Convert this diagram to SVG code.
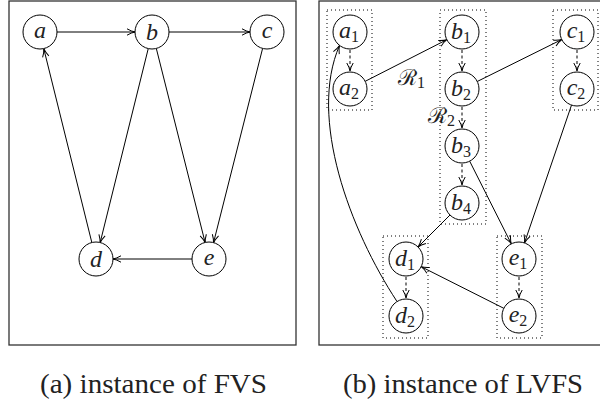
<svg xmlns="http://www.w3.org/2000/svg" width="600" height="403" viewBox="0 0 600 403">
<defs>
<marker id="arr" markerUnits="userSpaceOnUse" markerWidth="12" markerHeight="10" viewBox="-10 -5 12 10" refX="0" refY="0" orient="auto">
<path d="M-8,-3.2 Q-3.5,-0.6 0,0 Q-3.5,0.6 -8,3.2" fill="none" stroke="#000" stroke-width="1"/>
</marker>
</defs>
<g id="frames" fill="none" stroke="#333" stroke-width="1.3">
<rect x="9" y="1" width="287" height="344"/>
<rect x="319" y="1" width="283" height="344"/>
</g>
<g id="groups" fill="none" stroke="#000" stroke-width="1" stroke-dasharray="1 3">
<rect x="327" y="10" width="45" height="100"/>
<rect x="440" y="10" width="46" height="214"/>
<rect x="553" y="10" width="45" height="100"/>
<rect x="383" y="236" width="45" height="102"/>
<rect x="497" y="236" width="45" height="102"/>
</g>
<g id="connectors" fill="none" stroke="#000" stroke-width="1" marker-end="url(#arr)">
<line x1="57" y1="32" x2="135" y2="32"/>
<line x1="169" y1="32" x2="250" y2="32"/>
<line x1="192" y1="259" x2="113" y2="259"/>
<line x1="91.9" y1="242.8" x2="43.8" y2="48.8"/>
<line x1="148.2" y1="48.8" x2="100.1" y2="242.8"/>
<line x1="156.4" y1="48.8" x2="205.2" y2="242.8"/>
<line x1="262.5" y1="48.8" x2="213.5" y2="242.8"/>
<g stroke-dasharray="3 2.5">
<line x1="350" y1="50" x2="350" y2="71"/>
<line x1="462" y1="50" x2="462" y2="71"/>
<line x1="462" y1="107" x2="462" y2="128"/>
<line x1="462" y1="164" x2="462" y2="185"/>
<line x1="577" y1="50" x2="577" y2="71"/>
<line x1="406" y1="277" x2="406" y2="298"/>
<line x1="519" y1="277" x2="519" y2="298"/>
</g>
<line x1="365.2" y1="81.3" x2="446.8" y2="39.7"/>
<line x1="477.2" y1="81.5" x2="561.8" y2="39.5"/>
<line x1="571.5" y1="105.1" x2="524.5" y2="242.9"/>
<line x1="469.7" y1="161.2" x2="511.3" y2="243.8"/>
<line x1="450" y1="215" x2="418" y2="247"/>
<line x1="503.8" y1="308.3" x2="421.2" y2="266.7"/>
<path d="M397,301.5 C350,230 308,118 339.5,45.5"/>
</g>
<text x="398" y="85" font-family="DejaVu Serif" font-size="22" fill="#222">&#8475;<tspan font-family="Liberation Serif" font-size="16" dy="3">1</tspan></text>
<text x="428" y="123" font-family="DejaVu Serif" font-size="22" fill="#222">&#8475;<tspan font-family="Liberation Serif" font-size="16" dy="3">2</tspan></text>
<g id="nodes" fill="#fff" stroke="#000" stroke-width="1">
<g id="a"><circle cx="40" cy="32" r="17"/><text x="40" y="38" font-family="Liberation Serif" font-style="italic" font-size="24" fill="#222" stroke="none" text-anchor="middle">a</text></g>
<g id="b"><circle cx="152" cy="32" r="17"/><text x="152" y="40" font-family="Liberation Serif" font-style="italic" font-size="24" fill="#222" stroke="none" text-anchor="middle">b</text></g>
<g id="c"><circle cx="267" cy="32" r="17"/><text x="267" y="38" font-family="Liberation Serif" font-style="italic" font-size="24" fill="#222" stroke="none" text-anchor="middle">c</text></g>
<g id="d"><circle cx="96" cy="259" r="17"/><text x="96" y="267" font-family="Liberation Serif" font-style="italic" font-size="24" fill="#222" stroke="none" text-anchor="middle">d</text></g>
<g id="e"><circle cx="209" cy="259" r="17"/><text x="209" y="265" font-family="Liberation Serif" font-style="italic" font-size="24" fill="#222" stroke="none" text-anchor="middle">e</text></g>
<g id="a1"><circle cx="350" cy="32" r="17"/><text x="349" y="38" font-family="Liberation Serif" font-style="italic" font-size="24" fill="#222" stroke="none" text-anchor="middle">a<tspan font-style="normal" font-size="16" dy="4">1</tspan></text></g>
<g id="a2"><circle cx="350" cy="89" r="17"/><text x="349" y="95" font-family="Liberation Serif" font-style="italic" font-size="24" fill="#222" stroke="none" text-anchor="middle">a<tspan font-style="normal" font-size="16" dy="4">2</tspan></text></g>
<g id="b1"><circle cx="462" cy="32" r="17"/><text x="461" y="39" font-family="Liberation Serif" font-style="italic" font-size="24" fill="#222" stroke="none" text-anchor="middle">b<tspan font-style="normal" font-size="16" dy="4">1</tspan></text></g>
<g id="b2"><circle cx="462" cy="89" r="17"/><text x="461" y="96" font-family="Liberation Serif" font-style="italic" font-size="24" fill="#222" stroke="none" text-anchor="middle">b<tspan font-style="normal" font-size="16" dy="4">2</tspan></text></g>
<g id="b3"><circle cx="462" cy="146" r="17"/><text x="461" y="153" font-family="Liberation Serif" font-style="italic" font-size="24" fill="#222" stroke="none" text-anchor="middle">b<tspan font-style="normal" font-size="16" dy="4">3</tspan></text></g>
<g id="b4"><circle cx="462" cy="203" r="17"/><text x="461" y="210" font-family="Liberation Serif" font-style="italic" font-size="24" fill="#222" stroke="none" text-anchor="middle">b<tspan font-style="normal" font-size="16" dy="4">4</tspan></text></g>
<g id="c1"><circle cx="577" cy="32" r="17"/><text x="576" y="38" font-family="Liberation Serif" font-style="italic" font-size="24" fill="#222" stroke="none" text-anchor="middle">c<tspan font-style="normal" font-size="16" dy="4">1</tspan></text></g>
<g id="c2"><circle cx="577" cy="89" r="17"/><text x="576" y="95" font-family="Liberation Serif" font-style="italic" font-size="24" fill="#222" stroke="none" text-anchor="middle">c<tspan font-style="normal" font-size="16" dy="4">2</tspan></text></g>
<g id="d1"><circle cx="406" cy="259" r="17"/><text x="405" y="266" font-family="Liberation Serif" font-style="italic" font-size="24" fill="#222" stroke="none" text-anchor="middle">d<tspan font-style="normal" font-size="16" dy="4">1</tspan></text></g>
<g id="d2"><circle cx="406" cy="316" r="17"/><text x="405" y="323" font-family="Liberation Serif" font-style="italic" font-size="24" fill="#222" stroke="none" text-anchor="middle">d<tspan font-style="normal" font-size="16" dy="4">2</tspan></text></g>
<g id="e1"><circle cx="519" cy="259" r="17"/><text x="518" y="265" font-family="Liberation Serif" font-style="italic" font-size="24" fill="#222" stroke="none" text-anchor="middle">e<tspan font-style="normal" font-size="16" dy="4">1</tspan></text></g>
<g id="e2"><circle cx="519" cy="316" r="17"/><text x="518" y="322" font-family="Liberation Serif" font-style="italic" font-size="24" fill="#222" stroke="none" text-anchor="middle">e<tspan font-style="normal" font-size="16" dy="4">2</tspan></text></g>
</g>
<text x="153.5" y="393" font-family="Liberation Serif" font-size="27" fill="#222" text-anchor="middle" textLength="227" lengthAdjust="spacingAndGlyphs">(a) instance of FVS</text>
<text x="463" y="393" font-family="Liberation Serif" font-size="27" fill="#222" text-anchor="middle" textLength="240" lengthAdjust="spacingAndGlyphs">(b) instance of LVFS</text>
</svg>
